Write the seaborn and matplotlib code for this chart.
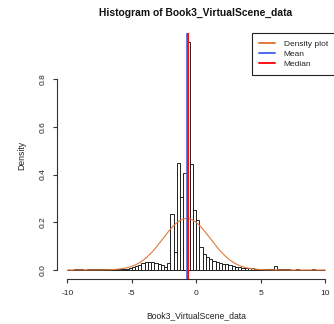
import numpy as np
import pandas as pd
import matplotlib
matplotlib.use("Agg")
import matplotlib.pyplot as plt
import seaborn as sns

# Histogram bins (width 0.25 from -10 to 10) and density of each bin
bin_edges = [round(-10.0 + 0.25 * i, 2) for i in range(81)]
bin_density = [
    0.0, 0.0, 0.003, 0.003, 0.002, 0.0, 0.002, 0.002,          # -10.0 .. -8.25
    0.002, 0.002, 0.002, 0.002, 0.004, 0.004, 0.003, 0.004,    # -8.0 .. -6.25
    0.005, 0.006, 0.006, 0.008, 0.011, 0.016, 0.022, 0.028,    # -6.0 .. -4.25
    0.033, 0.035, 0.033, 0.030, 0.025, 0.021, 0.014, 0.028,    # -4.0 .. -2.25
    0.235, 0.075, 0.450, 0.305, 0.405, 0.956, 0.444, 0.250,    # -2.0 .. -0.25
    0.210, 0.098, 0.067, 0.056, 0.047, 0.039, 0.035, 0.031,    # 0.0 .. 1.75
    0.026, 0.023, 0.020, 0.017, 0.014, 0.012, 0.010, 0.008,    # 2.0 .. 3.75
    0.008, 0.007, 0.006, 0.004, 0.004, 0.003, 0.003, 0.003,    # 4.0 .. 5.75
    0.017, 0.003, 0.002, 0.003, 0.002, 0.0, 0.0, 0.003,        # 6.0 .. 7.75
    0.0, 0.0, 0.0, 0.0, 0.003, 0.0, 0.0, 0.0,                  # 8.0 .. 9.75
]
bin_mids = [(a + b) / 2 for a, b in zip(bin_edges[:-1], bin_edges[1:])]

# Summary statistics of Book3_VirtualScene_data
mean_value = -0.74
median_value = -0.62
sd_value = 1.85

x_ticks = [-10, -5, 0, 5, 10]
y_ticks = [0.0, 0.2, 0.4, 0.6, 0.8]

sns.set_theme(style="white")
plt.rcParams["font.family"] = ["Liberation Sans", "DejaVu Sans"]

fig = plt.figure(figsize=(3.34, 3.24), dpi=100)
ax = fig.add_axes([57 / 334, 1 - 279.1 / 324, (335.4 - 57) / 334, (279.1 - 32.7) / 324])

hist_df = pd.DataFrame({"value": bin_mids, "density": bin_density})
sns.histplot(data=hist_df, x="value", weights="density", bins=bin_edges,
             stat="count", fill=False, element="bars", color="#222222",
             linewidth=0.7, ax=ax)

# Normal density curve drawn across the x range
grid = np.linspace(-10, 10, 400)
pdf = np.exp(-0.5 * ((grid - mean_value) / sd_value) ** 2) / (sd_value * np.sqrt(2 * np.pi))
sns.lineplot(x=grid, y=pdf, color="#E07A3A", linewidth=0.8, ax=ax,
             label="Density plot", legend=False)

ax.axvline(mean_value, color="#4A6CF0", linewidth=1.2, label="Mean")
ax.axvline(median_value, color="#FF1010", linewidth=1.5, label="Median")

ax.set_xlim(-10.8, 10.8)
ymax = max(bin_density)
ax.set_ylim(-0.04 * ymax, 1.04 * ymax)

for side in ["top", "right"]:
    ax.spines[side].set_visible(False)
for side in ["left", "bottom"]:
    ax.spines[side].set_color("#333333")
    ax.spines[side].set_linewidth(0.8)
ax.spines["left"].set_bounds(0, 0.8)
ax.spines["bottom"].set_bounds(-10, 10)

ax.set_xticks(x_ticks)
ax.set_xticklabels([str(t) for t in x_ticks])
ax.set_yticks(y_ticks)
ax.set_yticklabels([f"{t:.1f}" for t in y_ticks])
ax.tick_params(axis="both", direction="out", length=3, width=0.8, color="#333333",
               labelsize=6, labelcolor="#222222", pad=4.5, left=True, bottom=True)
for lbl in ax.get_yticklabels():
    lbl.set_rotation(90)
    lbl.set_va("center")

ax.set_xlabel("Book3_VirtualScene_data", fontsize=6.2, color="#222222")
ax.set_ylabel("Density", fontsize=6.2, color="#222222")
ax.xaxis.set_label_coords(0.5, (279.1 - 315.7) / 246.4)
ax.xaxis.label.set_va("center")
ax.yaxis.set_label_coords((21.7 - 57) / 278.4, 0.5)
ax.yaxis.label.set_va("center")

fig.text(196 / 334, 1 - 13.3 / 324, "Histogram of Book3_VirtualScene_data",
         ha="center", va="center", fontsize=7.4, fontweight="bold", color="#111111")

leg = ax.legend(loc="upper right", frameon=True, fancybox=False, fontsize=6,
                borderaxespad=0, handlelength=1.9, handletextpad=1.0,
                labelspacing=0.25, borderpad=0.9)
leg.get_frame().set_edgecolor("#222222")
leg.get_frame().set_linewidth(0.8)
leg.get_frame().set_alpha(1)
for handle in leg.get_lines():
    handle.set_linewidth(1.4)

fig.savefig("out.png", dpi=100, facecolor="white")
